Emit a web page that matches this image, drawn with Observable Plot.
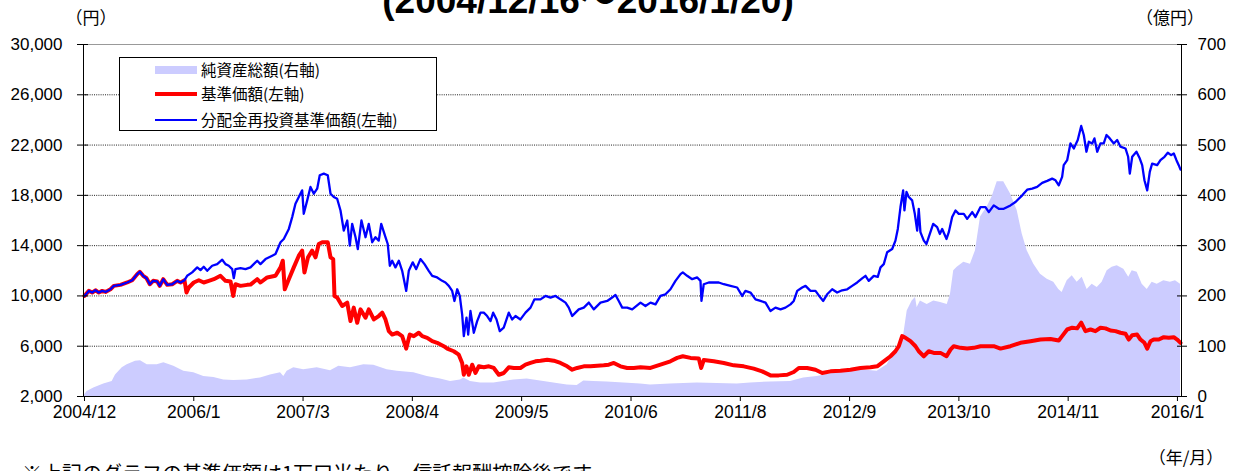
<!DOCTYPE html>
<html><head><meta charset="utf-8">
<script src="https://cdn.jsdelivr.net/npm/d3@7"></script>
<script src="https://cdn.jsdelivr.net/npm/@observablehq/plot@0.6"></script>
<style>
body{margin:0;background:#fff;}
#wrap{position:relative;width:1235px;height:471px;overflow:hidden;background:#fff;}
#wrap svg{position:absolute;left:0;top:0;}
</style></head><body><div id="wrap"></div>
<script>
// time as decimal year; values in 円 (left axis) and 億円 (right axis)
const netAssets = [[2004.956,3],[2004.983,10],[2005.050,17],[2005.151,25],[2005.236,30],[2005.270,43],[2005.338,57],[2005.388,63],[2005.472,70],[2005.523,71],[2005.591,63],[2005.692,63],[2005.759,67],[2005.860,60],[2005.961,50],[2006.062,47],[2006.163,40],[2006.265,38],[2006.366,33],[2006.467,32],[2006.603,33],[2006.737,37],[2006.838,43],[2006.940,47],[2006.973,40],[2007.007,50],[2007.074,57],[2007.175,53],[2007.311,57],[2007.446,51],[2007.530,60],[2007.648,57],[2007.783,63],[2007.884,62],[2008.019,53],[2008.121,50],[2008.289,47],[2008.424,40],[2008.559,35],[2008.660,30],[2008.761,33],[2008.795,37],[2008.862,30],[2008.964,27],[2009.098,27],[2009.199,30],[2009.301,33],[2009.436,35],[2009.571,31],[2009.705,27],[2009.841,23],[2009.942,22],[2010.009,31],[2010.110,30],[2010.246,29],[2010.414,27],[2010.583,25],[2010.684,23],[2010.886,25],[2011.157,27],[2011.359,26],[2011.561,25],[2011.696,27],[2011.898,29],[2012.101,30],[2012.235,37],[2012.371,40],[2012.506,45],[2012.607,50],[2012.809,53],[2012.978,50],[2013.079,63],[2013.181,97],[2013.247,123],[2013.282,170],[2013.332,190],[2013.366,197],[2013.383,177],[2013.416,190],[2013.484,183],[2013.551,190],[2013.619,187],[2013.687,183],[2013.720,203],[2013.753,250],[2013.788,257],[2013.855,267],[2013.922,263],[2013.973,290],[2014.024,357],[2014.091,377],[2014.142,397],[2014.193,427],[2014.259,427],[2014.327,403],[2014.395,370],[2014.446,323],[2014.496,290],[2014.563,263],[2014.631,243],[2014.699,233],[2014.765,227],[2014.816,213],[2014.850,207],[2014.901,230],[2014.952,240],[2015.002,227],[2015.053,237],[2015.103,213],[2015.154,223],[2015.205,217],[2015.255,227],[2015.306,250],[2015.356,257],[2015.407,260],[2015.474,253],[2015.524,237],[2015.559,250],[2015.609,247],[2015.660,223],[2015.711,213],[2015.761,227],[2015.812,223],[2015.879,230],[2015.946,227],[2015.997,230],[2016.048,223]];

const navPrice = [[2004.956,10000],[2005.000,10400],[2005.034,10270],[2005.067,10450],[2005.101,10270],[2005.135,10400],[2005.169,10320],[2005.219,10530],[2005.253,10800],[2005.320,10880],[2005.388,11070],[2005.439,11250],[2005.489,11730],[2005.516,11920],[2005.550,11600],[2005.584,11410],[2005.617,10930],[2005.651,11200],[2005.692,11150],[2005.718,10800],[2005.753,11330],[2005.793,10880],[2005.844,10930],[2005.894,11200],[2005.928,11070],[2005.968,11250],
[2005.988,10270],[2006.012,10670],[2006.062,11070],[2006.113,11250],[2006.163,11070],[2006.214,11200],[2006.265,11330],[2006.332,11600],[2006.383,11200],[2006.434,11150],[2006.461,10000],[2006.484,10930],[2006.535,10800],[2006.603,10880],[2006.636,10900],[2006.704,11330],[2006.737,11070],[2006.805,11470],[2006.889,11600],[2006.940,12270],[2006.963,12800],[2006.983,10530],[2007.024,11330],[2007.074,12270],[2007.125,13200],[2007.159,13600],[2007.182,11870],[2007.218,13070],[2007.260,13600],[2007.294,13070],[2007.327,14130],[2007.362,14270],[2007.418,14270],[2007.446,13070],[2007.473,12930],[2007.486,10000],[2007.513,9870],[2007.564,9200],[2007.615,9470],[2007.648,8000],[2007.681,9070],[2007.716,7870],[2007.749,8930],[2007.800,8270],[2007.833,8930],[2007.884,8130],[2007.934,8400],[2007.969,8670],[2008.002,8130],[2008.036,7200],[2008.070,6930],[2008.121,7070],[2008.171,6800],[2008.212,5810],[2008.248,6930],[2008.289,6800],[2008.339,7070],[2008.374,6800],[2008.424,6670],[2008.475,6400],[2008.525,6270],[2008.592,6000],[2008.627,5810],[2008.693,5600],[2008.744,5330],[2008.778,4670],[2008.795,3730],[2008.822,4400],[2008.845,3730],[2008.880,4530],[2008.913,3870],[2008.946,4400],[2008.997,4320],[2009.048,4400],[2009.098,4270],[2009.149,3730],[2009.199,3870],[2009.250,4320],[2009.301,4270],[2009.368,4270],[2009.419,4530],[2009.470,4670],[2009.520,4800],[2009.571,4850],[2009.639,4930],[2009.705,4850],[2009.773,4670],[2009.841,4400],[2009.892,4130],[2009.942,4270],[2010.009,4400],[2010.077,4400],[2010.145,4450],[2010.211,4480],[2010.262,4530],[2010.313,4670],[2010.380,4400],[2010.448,4270],[2010.515,4270],[2010.583,4320],[2010.684,4270],[2010.785,4530],[2010.886,4800],[2010.954,5070],[2011.011,5200],[2011.089,5070],[2011.173,5020],[2011.197,4270],[2011.223,4900],[2011.325,4800],[2011.426,4670],[2011.527,4480],[2011.628,4400],[2011.729,4220],[2011.814,4000],[2011.898,3680],[2011.982,3680],[2012.067,3730],[2012.134,3950],[2012.185,4270],[2012.270,4270],[2012.354,4130],[2012.422,3870],[2012.506,4000],[2012.607,4050],[2012.708,4130],[2012.809,4270],[2012.910,4320],[2012.978,4400],[2013.045,4800],[2013.113,5200],[2013.163,5600],[2013.197,6000],[2013.231,6800],[2013.265,6670],[2013.315,6400],[2013.366,6000],[2013.399,5600],[2013.450,5200],[2013.500,5600],[2013.551,5470],[2013.619,5470],[2013.680,5200],[2013.720,5730],[2013.753,6000],[2013.821,5870],[2013.889,5810],[2013.956,5870],[2014.024,6000],[2014.091,6000],[2014.158,6000],[2014.226,5810],[2014.327,6000],[2014.428,6270],[2014.530,6400],[2014.631,6530],[2014.732,6580],[2014.816,6450],[2014.850,6800],[2014.901,7330],[2014.952,7470],[2015.002,7420],[2015.043,7870],[2015.086,7200],[2015.137,7330],[2015.187,7200],[2015.238,7470],[2015.289,7420],[2015.339,7250],[2015.390,7200],[2015.440,7070],[2015.491,6990],[2015.524,6530],[2015.559,6880],[2015.609,6930],[2015.643,6530],[2015.683,6270],[2015.711,5810],[2015.744,6400],[2015.777,6530],[2015.828,6530],[2015.879,6720],[2015.929,6670],[2015.980,6720],[2016.014,6530],[2016.048,6270]];

const reinvestPrice = [[2004.956,10000],[2005.000,10400],[2005.034,10270],[2005.067,10450],[2005.101,10270],[2005.135,10400],[2005.169,10320],[2005.219,10530],[2005.253,10800],[2005.320,10880],[2005.388,11070],[2005.439,11250],[2005.489,11730],[2005.516,11920],[2005.550,11600],[2005.584,11410],[2005.617,10930],[2005.651,11200],[2005.692,11150],[2005.718,10800],[2005.753,11330],[2005.793,10880],[2005.844,10930],[2005.894,11200],[2005.928,11070],[2005.968,11250],
[2005.995,11600],[2006.046,11870],[2006.097,12270],[2006.130,12050],[2006.163,12320],[2006.198,12000],[2006.248,12400],[2006.299,12530],[2006.350,12880],[2006.383,12530],[2006.416,12400],[2006.451,12130],[2006.467,11410],[2006.484,12130],[2006.535,12210],[2006.585,12130],[2006.636,12270],[2006.704,12800],[2006.737,12530],[2006.788,12930],[2006.856,13200],[2006.889,13330],[2006.940,14270],[2006.973,14530],[2007.024,15330],[2007.058,16270],[2007.091,17330],[2007.125,17870],[2007.159,18400],[2007.175,16530],[2007.210,17600],[2007.243,18670],[2007.277,18130],[2007.311,18530],[2007.337,19600],[2007.378,19730],[2007.418,19600],[2007.446,18130],[2007.479,17870],[2007.513,17730],[2007.547,16800],[2007.580,15200],[2007.615,16000],[2007.641,14000],[2007.665,15730],[2007.699,14670],[2007.722,13730],[2007.759,16000],[2007.800,14670],[2007.833,15730],[2007.868,14270],[2007.901,14670],[2007.934,14400],[2007.959,15730],[2008.002,14670],[2008.025,14130],[2008.046,12400],[2008.070,12800],[2008.103,12270],[2008.137,12800],[2008.171,12000],[2008.212,10400],[2008.238,12000],[2008.278,12670],[2008.313,12130],[2008.356,12930],[2008.397,12530],[2008.440,12000],[2008.475,11600],[2008.525,11470],[2008.576,11200],[2008.609,11070],[2008.643,10800],[2008.677,10400],[2008.700,9600],[2008.728,10530],[2008.754,10000],[2008.778,8530],[2008.795,6800],[2008.822,8270],[2008.839,6930],[2008.862,8800],[2008.896,7070],[2008.930,8000],[2008.964,8670],[2008.997,8670],[2009.031,8400],[2009.065,8000],[2009.092,8670],[2009.126,8130],[2009.159,7200],[2009.199,7470],[2009.250,8670],[2009.284,8130],[2009.318,8400],[2009.368,8130],[2009.419,8670],[2009.470,9070],[2009.510,9730],[2009.571,9730],[2009.621,10000],[2009.672,9870],[2009.723,10000],[2009.773,9730],[2009.824,9470],[2009.857,9070],[2009.892,8400],[2009.925,8670],[2009.958,8930],[2010.009,9070],[2010.060,9470],[2010.110,8930],[2010.178,9470],[2010.246,9600],[2010.296,9870],[2010.330,10080],[2010.363,9600],[2010.398,9070],[2010.448,9070],[2010.499,8930],[2010.583,9470],[2010.633,9200],[2010.684,9470],[2010.735,9330],[2010.785,10000],[2010.836,10130],[2010.886,10530],[2010.937,11200],[2010.988,11730],[2011.011,11870],[2011.055,11600],[2011.106,11330],[2011.157,11470],[2011.190,11200],[2011.200,9600],[2011.223,10930],[2011.274,11070],[2011.325,11070],[2011.375,11070],[2011.426,10930],[2011.494,10800],[2011.561,10670],[2011.612,10000],[2011.645,10400],[2011.696,10270],[2011.747,9730],[2011.797,9600],[2011.848,9470],[2011.898,8800],[2011.949,9070],[2012.000,8930],[2012.050,9070],[2012.101,9330],[2012.134,9600],[2012.169,10400],[2012.219,10670],[2012.253,10800],[2012.303,10400],[2012.354,10400],[2012.404,9870],[2012.432,9600],[2012.472,10130],[2012.523,10530],[2012.573,10270],[2012.624,10450],[2012.675,10530],[2012.725,10800],[2012.776,11070],[2012.826,11400],[2012.860,11600],[2012.893,11200],[2012.944,11600],[2012.984,11520],[2013.012,12270],[2013.045,12530],[2013.079,13470],[2013.130,13730],[2013.163,14400],[2013.187,15330],[2013.214,17070],[2013.241,18400],[2013.254,16800],[2013.275,18270],[2013.298,17870],[2013.332,17600],[2013.359,16530],[2013.383,15200],[2013.399,16930],[2013.416,15070],[2013.450,14400],[2013.477,14130],[2013.500,14670],[2013.545,15730],[2013.585,15470],[2013.612,14930],[2013.636,15330],[2013.680,14530],[2013.703,15070],[2013.737,16270],[2013.771,16800],[2013.804,16530],[2013.855,16530],[2013.889,16130],[2013.940,16670],[2013.973,16270],[2014.024,17070],[2014.074,17070],[2014.108,16670],[2014.158,17200],[2014.209,16930],[2014.259,16930],[2014.327,17200],[2014.378,17470],[2014.411,17730],[2014.446,18000],[2014.496,18450],[2014.547,18530],[2014.597,18670],[2014.648,18990],[2014.699,19150],[2014.749,19330],[2014.783,19200],[2014.816,18800],[2014.850,19470],[2014.866,20400],[2014.901,20800],[2014.934,22130],[2014.968,21730],[2015.008,22400],[2015.043,23520],[2015.069,22800],[2015.096,21470],[2015.120,22270],[2015.154,22130],[2015.177,22530],[2015.205,21470],[2015.238,22130],[2015.271,22130],[2015.299,22800],[2015.332,22530],[2015.373,22130],[2015.407,22400],[2015.440,21870],[2015.491,21730],[2015.518,21070],[2015.535,19730],[2015.559,21070],[2015.602,21470],[2015.636,20930],[2015.660,20400],[2015.683,19200],[2015.711,18400],[2015.737,19870],[2015.761,20530],[2015.812,20400],[2015.845,20800],[2015.886,21070],[2015.919,21390],[2015.953,21200],[2015.980,21330],[2016.007,20800],[2016.030,20400],[2016.048,20050]];

const leftTicks = [2000, 6000, 10000, 14000, 18000, 22000, 26000, 30000];
const rightTicks = [0, 100, 200, 300, 400, 500, 600, 700];
const xTickValues = [2004.956, 2006.062, 2007.168, 2008.274, 2009.380, 2010.487, 2011.593, 2012.699, 2013.805, 2014.911, 2016.017];
const xTickLabels = ["2004/12", "2006/1", "2007/3", "2008/4", "2009/5", "2010/6", "2011/8", "2012/9", "2013/10", "2014/11", "2016/1"];
const legendLabels = ["純資産総額(右軸)", "基準価額(左軸)", "分配金再投資基準価額(左軸)"];
const titleText = "(2004/12/16～2016/1/20)";
const footnote = "※上記のグラフの基準価額は1万口当たり、信託報酬控除後です。";

// right axis (億円) mapped onto the left axis (円): 0→2,000, 700→30,000
const toLeft = v => 2000 + v * 40;
const rows = a => a.map(([t, v]) => ({t, v}));
const labelOf = new Map(xTickValues.map((d, i) => [d, xTickLabels[i]]));
const gridTicks = leftTicks.slice(1, -1);
const blank = () => "";

const chart = Plot.plot({
  width: 1235, height: 471,
  marginLeft: 83, marginRight: 54, marginTop: 44, marginBottom: 75,
  style: {fontFamily: "'Liberation Sans', Arial, sans-serif", background: "transparent", color: "#000"},
  x: {type: "linear", domain: [2004.946, 2016.058], axis: null, label: null},
  y: {domain: [2000, 30000], axis: null, label: null},
  marks: [
    Plot.ruleY(gridTicks, {stroke: "#222", strokeDasharray: "1,1.2"}),
    Plot.areaY(rows(netAssets), {x: "t", y1: 2000, y2: d => toLeft(d.v), fill: "#ccccff"}),
    Plot.line(rows(navPrice), {x: "t", y: "v", stroke: "#ff0000", strokeWidth: 4, strokeLinejoin: "round"}),
    Plot.line(rows(reinvestPrice), {x: "t", y: "v", stroke: "#0000ff", strokeWidth: 2.3, strokeLinejoin: "round"}),
    Plot.frame({stroke: "#000"}),
    Plot.ruleY([30000], {stroke: "#999"}),
    Plot.axisY(leftTicks, {anchor: "left", tickSize: 11, dx: 5, tickFormat: blank, label: null}),
    Plot.axisY(leftTicks, {anchor: "left", tickSize: 0, tickPadding: 21, tickFormat: d3.format(","), fontSize: 17, label: null}),
    Plot.axisY(rightTicks.map(toLeft), {anchor: "right", tickSize: 10, dx: -5, tickFormat: blank, label: null}),
    Plot.axisY(rightTicks.map(toLeft), {anchor: "right", tickSize: 0, tickPadding: 16, tickFormat: d => String((d - 2000) / 40), fontSize: 17, label: null}),
    Plot.axisX(xTickValues, {anchor: "bottom", tickSize: 5, tickPadding: 4, tickFormat: d => labelOf.get(d), fontSize: 17.5, label: null})
  ]
});
const wrap = document.getElementById("wrap");
wrap.appendChild(chart);

// overlay texts and legend
const ov = d3.select(wrap).append("svg").attr("width", 1235).attr("height", 471)
  .style("pointer-events", "none")
  .style("font-family", "'Noto Sans CJK JP', 'Liberation Sans', sans-serif");
ov.append("text").attr("x", 588).attr("y", 13).attr("text-anchor", "middle")
  .style("font-family", "'Liberation Sans', 'Noto Sans CJK JP', sans-serif")
  .attr("font-weight", "bold").attr("font-size", 37).text(titleText);
ov.append("text").attr("x", 91).attr("y", 24).attr("text-anchor", "middle").attr("font-size", 17).text("（円）");
ov.append("text").attr("x", 1170).attr("y", 24).attr("text-anchor", "middle").attr("font-size", 17).text("（億円）");
ov.append("text").attr("x", 1186).attr("y", 464).attr("text-anchor", "middle").attr("font-size", 17).text("（年/月）");
ov.append("text").attr("x", 22).attr("y", 481).attr("font-size", 20).text(footnote);

const lg = ov.append("g");
lg.append("rect").attr("x", 119.5).attr("y", 57.5).attr("width", 317).attr("height", 73)
  .attr("fill", "#fff").attr("stroke", "#000");
lg.append("rect").attr("x", 155).attr("y", 66).attr("width", 42).attr("height", 8).attr("fill", "#ccccff");
lg.append("line").attr("x1", 155).attr("x2", 197).attr("y1", 94).attr("y2", 94).attr("stroke", "#ff0000").attr("stroke-width", 4);
lg.append("line").attr("x1", 155).attr("x2", 197).attr("y1", 120).attr("y2", 120).attr("stroke", "#0000ff").attr("stroke-width", 2);
[75.5, 99.5, 125.5].forEach((y, i) => {
  lg.append("text").attr("x", 201).attr("y", y).attr("font-size", 15.5).text(legendLabels[i]);
});
</script></body></html>
